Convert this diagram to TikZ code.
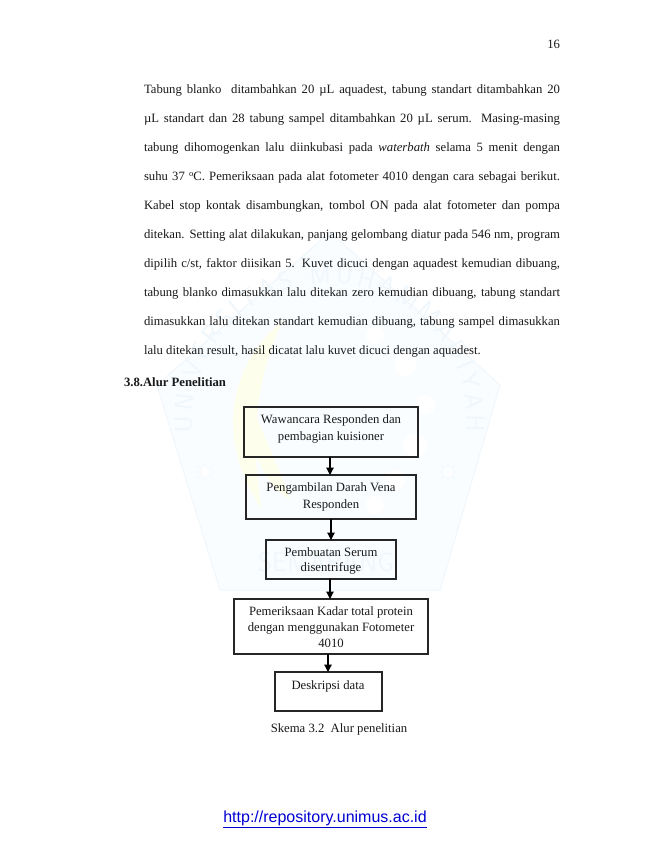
\documentclass[tikz,border=0pt]{standalone}
\usepackage{fontspec}
\setmainfont{Liberation Serif}
\newfontfamily\urlfont{Liberation Sans}
\usetikzlibrary{arrows.meta,decorations.text,shapes.geometric}
\definecolor{wm}{RGB}{240,247,252}
\definecolor{wmbg}{RGB}{250,253,255}
\definecolor{wmy}{RGB}{254,254,236}
\definecolor{linkblue}{RGB}{0,0,210}
\definecolor{ink}{RGB}{25,25,25}
\newcommand{\bodyfont}{\fontsize{12.7}{14}\selectfont}
\tikzset{
  every node/.style={text=ink,font=\bodyfont},
  txt/.style={anchor=base west,inner sep=0pt,outer sep=0pt},
  flowbox/.style={draw=black!85,line width=1.1pt,fill=none,align=center,inner sep=0pt,outer sep=0pt,anchor=north west},
  flowarrow/.style={draw=black,line width=1.2pt,-{Triangle[length=7.5pt,width=7.5pt]}},
  wmstar/.style={star,star points=8,star point ratio=2.2,fill=white,draw=wm,minimum size=18pt,inner sep=0pt}
}
\newcommand{\jline}[3]{\node[txt] (#1) at (144,#2) {\hbox to 416pt{#3}};}
\begin{document}
\begin{tikzpicture}[x=1pt,y=-1pt]
\useasboundingbox (0,0) rectangle (650,841);
\fill[white] (0,0) rectangle (650,841);
% watermark
\fill[wmbg,draw=wm,line width=1pt,line join=round] (330,232) -- (500,385) -- (440,590) -- (220,590) -- (157,385) -- cycle;
\fill[wmy] (283,320) .. controls (235,360) and (210,430) .. (262,510) .. controls (250,440) and (255,380) .. (283,320) -- cycle;
\fill[wmy] (250,400) .. controls (265,440) and (285,480) .. (290,500) .. controls (265,485) and (245,445) .. (250,400) -- cycle;
\fill[white] (375,335) circle (9) (405,365) circle (11) (425,405) circle (10) (415,445) circle (12) (395,480) circle (10) (375,505) circle (9);
\node[wmstar] (starl) at (205,472) {};
\node[wmstar] (starr) at (448,472) {};
\path[postaction={decorate,decoration={text along path,text align={fit to path},
  text={|\fontsize{26}{26}\selectfont\sffamily\color{wm}|UNIVERSITAS MUHAMMADIYAH}}}]
  (193,432) arc[start angle=175,end angle=365,radius=137];
\node[txt,anchor=center,text=wm,font=\fontsize{27}{27}\selectfont\sffamily] (wmtext) at (326,562) {SEMARANG};
% page text
\node[txt,anchor=base east] (pg) at (560,48) {16};
\jline{l1}{93}{Tabung blanko\ \ ditambahkan 20 µL aquadest, tabung standart ditambahkan 20}
\jline{l2}{122}{µL standart dan 28 tabung sampel ditambahkan 20 µL serum. Masing-masing}
\jline{l3}{151}{tabung dihomogenkan lalu diinkubasi pada \textit{waterbath} selama 5 menit dengan}
\jline{l4}{180}{suhu 37 \raisebox{4pt}{\fontsize{8.5}{8.5}\selectfont o}C. Pemeriksaan pada alat fotometer 4010 dengan cara sebagai berikut.}
\jline{l5}{209}{Kabel stop kontak disambungkan, tombol ON pada alat fotometer dan pompa}
\jline{l6}{238}{ditekan. Setting alat dilakukan, panjang gelombang diatur pada 546 nm, program}
\jline{l7}{267}{dipilih c/st, faktor diisikan 5. Kuvet dicuci dengan aquadest kemudian dibuang,}
\jline{l8}{296}{tabung blanko dimasukkan lalu ditekan zero kemudian dibuang, tabung standart}
\jline{l9}{325}{dimasukkan lalu ditekan standart kemudian dibuang, tabung sampel dimasukkan}
\node[txt] (l10) at (144,354) {lalu ditekan result, hasil dicatat lalu kuvet dicuci dengan aquadest.};
\node[txt] (head) at (124,386) {\textbf{3.8.Alur Penelitian}};
% boxes
\node[flowbox,minimum width=174pt,minimum height=50pt] (b1) at (244,407) {};
\node[flowbox,minimum width=170pt,minimum height=44pt] (b2) at (246,475) {};
\node[flowbox,minimum width=130pt,minimum height=39pt] (b3) at (266,540) {};
\node[flowbox,minimum width=194pt,minimum height=55pt] (b4) at (234,599) {};
\node[flowbox,minimum width=107pt,minimum height=39pt] (b5) at (275,672) {};
\node[txt,anchor=base] (t1a) at (331,423) {Wawancara Responden dan};
\node[txt,anchor=base] (t1b) at (331,440) {pembagian kuisioner};
\node[txt,anchor=base] (t2a) at (331,491) {Pengambilan Darah Vena};
\node[txt,anchor=base] (t2b) at (331,508) {Responden};
\node[txt,anchor=base] (t3a) at (331,556) {Pembuatan Serum};
\node[txt,anchor=base] (t3b) at (331,571) {disentrifuge};
\node[txt,anchor=base] (t4a) at (331,615) {Pemeriksaan Kadar total protein};
\node[txt,anchor=base] (t4b) at (331,631) {dengan menggunakan Fotometer};
\node[txt,anchor=base] (t4c) at (331,647) {4010};
\node[txt,anchor=base] (t5) at (328,689) {Deskripsi data};
\node[txt,anchor=base] (cap) at (339,732) {Skema 3.2\ \ Alur penelitian};
\draw[flowarrow] (b1.south -| 330,0) -- (b2.north -| 330,0);
\draw[flowarrow] (b2.south -| 331,0) -- (b3.north -| 331,0);
\draw[flowarrow] (b3.south -| 330,0) -- (b4.north -| 330,0);
\draw[flowarrow] (b4.south -| 328,0) -- (b5.north -| 328,0);
\node[txt,anchor=base,text=linkblue,font=\urlfont\fontsize{16}{16}\selectfont] (url) at (325,822) {\underline{http://repository.unimus.ac.id}};
\end{tikzpicture}
\end{document}
